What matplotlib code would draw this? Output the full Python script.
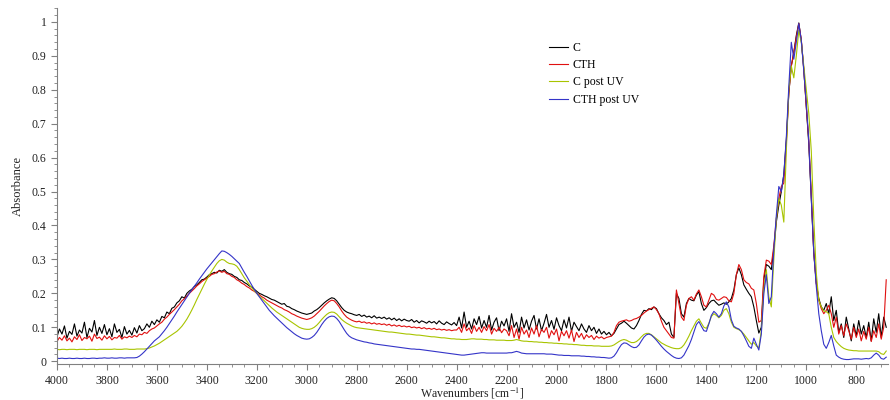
"""
Espectros FTIR - C, CTH, antes e depois do UV
"""

import numpy as np
import matplotlib
matplotlib.use('Agg')
import matplotlib.pyplot as plt
from matplotlib.ticker import MultipleLocator, FuncFormatter

plt.rcParams['font.family'] = ['Liberation Serif', 'DejaVu Serif']
plt.rcParams['mathtext.fontset'] = 'stix'

# ========================================
# DADOS (passo de 10 cm-1)
# ========================================

numero_onda = np.arange(4000, 679, -10)

absorb_c = [
    0.072, 0.095, 0.080, 0.104, 0.068, 0.088, 0.079, 0.110, 0.074, 0.092,
    0.083, 0.115, 0.070, 0.097, 0.086, 0.120, 0.076, 0.100, 0.082, 0.108,
    0.078, 0.096, 0.072, 0.110, 0.085, 0.094, 0.070, 0.102, 0.080, 0.091,
    0.077, 0.099, 0.083, 0.105, 0.090, 0.096, 0.110, 0.100, 0.118, 0.108,
    0.122, 0.115, 0.132, 0.128, 0.145, 0.140, 0.156, 0.160, 0.172, 0.178,
    0.190, 0.186, 0.200, 0.207, 0.212, 0.220, 0.225, 0.232, 0.240, 0.242,
    0.248, 0.255, 0.258, 0.262, 0.260, 0.268, 0.265, 0.270, 0.262, 0.258,
    0.256, 0.250, 0.247, 0.240, 0.238, 0.232, 0.228, 0.222, 0.218, 0.212,
    0.206, 0.200, 0.197, 0.193, 0.190, 0.186, 0.182, 0.180, 0.176, 0.172,
    0.168, 0.170, 0.162, 0.160, 0.155, 0.152, 0.148, 0.145, 0.142, 0.140,
    0.138, 0.140, 0.142, 0.148, 0.152, 0.158, 0.165, 0.172, 0.178, 0.183,
    0.187, 0.185, 0.178, 0.168, 0.158, 0.150, 0.145, 0.142, 0.140, 0.137,
    0.135, 0.138, 0.132, 0.136, 0.130, 0.133, 0.128, 0.134, 0.127, 0.130,
    0.126, 0.130, 0.124, 0.128, 0.122, 0.127, 0.120, 0.125, 0.119, 0.124,
    0.120, 0.118, 0.123, 0.115, 0.120, 0.113, 0.119, 0.116, 0.112, 0.118,
    0.113, 0.117, 0.110, 0.119, 0.112, 0.108, 0.116, 0.111, 0.107, 0.114,
    0.105, 0.130, 0.098, 0.145, 0.100, 0.118, 0.095, 0.125, 0.108, 0.132,
    0.098, 0.120, 0.100, 0.135, 0.092, 0.115, 0.128, 0.090, 0.118, 0.104,
    0.125, 0.088, 0.140, 0.100, 0.115, 0.085, 0.130, 0.098, 0.122, 0.092,
    0.118, 0.135, 0.095, 0.125, 0.090, 0.112, 0.138, 0.100, 0.120, 0.094,
    0.128, 0.105, 0.090, 0.122, 0.098, 0.130, 0.088, 0.115, 0.102, 0.090,
    0.110, 0.095, 0.085, 0.105, 0.090, 0.100, 0.082, 0.095, 0.080, 0.088,
    0.078, 0.085, 0.075, 0.082, 0.095, 0.108, 0.112, 0.118, 0.112, 0.105,
    0.098, 0.095, 0.105, 0.120, 0.138, 0.150, 0.148, 0.155, 0.152, 0.160,
    0.155, 0.140, 0.128, 0.120, 0.108, 0.115, 0.080, 0.070, 0.200, 0.185,
    0.140, 0.130, 0.170, 0.185, 0.180, 0.178, 0.195, 0.205, 0.170, 0.150,
    0.158, 0.170, 0.178, 0.180, 0.172, 0.165, 0.168, 0.172, 0.168, 0.175,
    0.185, 0.210, 0.255, 0.275, 0.255, 0.225, 0.212, 0.200, 0.190, 0.160,
    0.120, 0.083, 0.100, 0.240, 0.285, 0.280, 0.270, 0.330, 0.410, 0.460,
    0.500, 0.550, 0.650, 0.790, 0.870, 0.910, 0.960, 0.997, 0.945, 0.860,
    0.750, 0.640, 0.480, 0.320, 0.230, 0.185, 0.160, 0.150, 0.170, 0.140,
    0.190, 0.120, 0.150, 0.085, 0.110, 0.070, 0.130, 0.095, 0.060, 0.110,
    0.075, 0.120, 0.080, 0.105, 0.070, 0.115, 0.060, 0.125, 0.085, 0.140,
    0.070, 0.130, 0.100,
]

absorb_cth = [
    0.058, 0.070, 0.062, 0.075, 0.060, 0.068, 0.057, 0.072, 0.064, 0.078,
    0.061, 0.070, 0.066, 0.074, 0.059, 0.080, 0.067, 0.071, 0.062, 0.075,
    0.066, 0.073, 0.063, 0.070, 0.068, 0.076, 0.065, 0.072, 0.069, 0.074,
    0.070, 0.076, 0.072, 0.080, 0.078, 0.085, 0.082, 0.090, 0.095, 0.098,
    0.104, 0.110, 0.115, 0.124, 0.130, 0.138, 0.145, 0.152, 0.160, 0.168,
    0.178, 0.184, 0.192, 0.200, 0.207, 0.214, 0.222, 0.228, 0.235, 0.240,
    0.245, 0.250, 0.256, 0.258, 0.263, 0.266, 0.262, 0.265, 0.258, 0.256,
    0.250, 0.247, 0.240, 0.236, 0.230, 0.226, 0.220, 0.216, 0.210, 0.206,
    0.200, 0.196, 0.190, 0.186, 0.180, 0.176, 0.172, 0.168, 0.164, 0.160,
    0.157, 0.152, 0.149, 0.145, 0.140, 0.137, 0.133, 0.130, 0.127, 0.125,
    0.123, 0.125, 0.128, 0.133, 0.140, 0.147, 0.155, 0.163, 0.170, 0.176,
    0.180, 0.178, 0.170, 0.160, 0.148, 0.138, 0.130, 0.125, 0.121, 0.118,
    0.116, 0.118, 0.114, 0.116, 0.112, 0.114, 0.110, 0.113, 0.109, 0.111,
    0.108, 0.110, 0.106, 0.109, 0.104, 0.107, 0.103, 0.106, 0.102, 0.104,
    0.101, 0.103, 0.099, 0.101, 0.098, 0.100, 0.096, 0.099, 0.095, 0.097,
    0.094, 0.097, 0.093, 0.095, 0.092, 0.094, 0.091, 0.093, 0.090, 0.092,
    0.092, 0.100, 0.085, 0.110, 0.090, 0.098, 0.082, 0.105, 0.088, 0.100,
    0.085, 0.102, 0.090, 0.108, 0.080, 0.097, 0.088, 0.100, 0.084, 0.095,
    0.090, 0.075, 0.105, 0.070, 0.095, 0.065, 0.100, 0.080, 0.092, 0.070,
    0.098, 0.080, 0.105, 0.072, 0.094, 0.085, 0.100, 0.068, 0.090, 0.078,
    0.095, 0.060, 0.088, 0.075, 0.090, 0.068, 0.092, 0.058, 0.085, 0.070,
    0.082, 0.065, 0.078, 0.070, 0.076, 0.064, 0.074, 0.068, 0.072, 0.066,
    0.070, 0.072, 0.074, 0.085, 0.105, 0.115, 0.118, 0.120, 0.122, 0.118,
    0.120, 0.124, 0.126, 0.130, 0.135, 0.142, 0.148, 0.152, 0.156, 0.160,
    0.152, 0.140, 0.118, 0.100, 0.090, 0.080, 0.070, 0.068, 0.210, 0.170,
    0.130, 0.120, 0.165, 0.185, 0.190, 0.180, 0.198, 0.210, 0.190, 0.165,
    0.160, 0.180, 0.200, 0.195, 0.182, 0.180, 0.185, 0.190, 0.188, 0.178,
    0.175, 0.200, 0.255, 0.285, 0.270, 0.240, 0.232, 0.228, 0.215, 0.210,
    0.170, 0.115, 0.120, 0.250, 0.298, 0.295, 0.285, 0.340, 0.420, 0.480,
    0.515, 0.525, 0.640, 0.790, 0.870, 0.910, 0.955, 0.995, 0.948, 0.860,
    0.750, 0.650, 0.490, 0.320, 0.230, 0.180, 0.155, 0.140, 0.150, 0.165,
    0.140, 0.100, 0.130, 0.080, 0.105, 0.075, 0.110, 0.090, 0.065, 0.100,
    0.070, 0.095, 0.060, 0.088, 0.065, 0.100, 0.058, 0.090, 0.070, 0.110,
    0.065, 0.100, 0.240,
]

absorb_c_uv = [
    0.035, 0.034, 0.035, 0.035, 0.034, 0.035, 0.035, 0.035, 0.034, 0.035,
    0.035, 0.035, 0.034, 0.035, 0.035, 0.035, 0.034, 0.035, 0.035, 0.035,
    0.035, 0.035, 0.035, 0.036, 0.035, 0.035, 0.035, 0.036, 0.036, 0.035,
    0.035, 0.035, 0.036, 0.036, 0.036, 0.036, 0.037, 0.039, 0.042, 0.045,
    0.049, 0.053, 0.058, 0.063, 0.068, 0.073, 0.078, 0.083, 0.088, 0.095,
    0.103, 0.113, 0.124, 0.137, 0.151, 0.166, 0.182, 0.197, 0.212, 0.227,
    0.241, 0.254, 0.266, 0.277, 0.288, 0.296, 0.300, 0.298, 0.292, 0.288,
    0.287, 0.285, 0.280, 0.270, 0.258, 0.246, 0.236, 0.226, 0.216, 0.208,
    0.200, 0.192, 0.185, 0.178, 0.171, 0.164, 0.157, 0.151, 0.145, 0.140,
    0.135, 0.130, 0.125, 0.120, 0.115, 0.110, 0.105, 0.100, 0.097, 0.095,
    0.094, 0.094, 0.096, 0.100, 0.106, 0.114, 0.123, 0.131, 0.138, 0.143,
    0.145, 0.144, 0.139, 0.131, 0.123, 0.117, 0.112, 0.108, 0.104, 0.101,
    0.099, 0.098, 0.097, 0.096, 0.095, 0.094, 0.093, 0.092, 0.091, 0.090,
    0.089, 0.088, 0.087, 0.086, 0.086, 0.085, 0.084, 0.083, 0.082, 0.081,
    0.080, 0.080, 0.079, 0.078, 0.077, 0.077, 0.076, 0.075, 0.074, 0.073,
    0.072, 0.072, 0.071, 0.070, 0.069, 0.069, 0.068, 0.067, 0.066, 0.066,
    0.065, 0.065, 0.064, 0.064, 0.064, 0.065, 0.066, 0.066, 0.065, 0.065,
    0.065, 0.064, 0.064, 0.063, 0.063, 0.063, 0.062, 0.062, 0.062, 0.062,
    0.061, 0.061, 0.061, 0.062, 0.064, 0.062, 0.060, 0.059, 0.059, 0.058,
    0.058, 0.057, 0.057, 0.056, 0.056, 0.055, 0.055, 0.054, 0.054, 0.053,
    0.053, 0.052, 0.052, 0.051, 0.051, 0.050, 0.050, 0.049, 0.049, 0.048,
    0.047, 0.047, 0.046, 0.046, 0.046, 0.045, 0.045, 0.045, 0.044, 0.044,
    0.044, 0.044, 0.045, 0.048, 0.053, 0.058, 0.062, 0.064, 0.062, 0.058,
    0.055, 0.055, 0.058, 0.064, 0.072, 0.079, 0.082, 0.082, 0.078, 0.072,
    0.066, 0.060, 0.054, 0.050, 0.046, 0.043, 0.040, 0.038, 0.037, 0.037,
    0.040, 0.048, 0.060, 0.074, 0.090, 0.104, 0.118, 0.125, 0.112, 0.100,
    0.097, 0.112, 0.132, 0.140, 0.135, 0.128, 0.135, 0.150, 0.155, 0.140,
    0.115, 0.100, 0.096, 0.093, 0.088, 0.080, 0.070, 0.060, 0.050, 0.055,
    0.045, 0.040, 0.090, 0.210, 0.270, 0.190, 0.160, 0.300, 0.420, 0.480,
    0.460, 0.410, 0.620, 0.800, 0.870, 0.835, 0.900, 0.975, 0.940, 0.870,
    0.800, 0.730, 0.620, 0.420, 0.260, 0.180, 0.160, 0.148, 0.146, 0.140,
    0.100, 0.070, 0.058, 0.050, 0.043, 0.038, 0.035, 0.033, 0.032, 0.031,
    0.031, 0.030, 0.030, 0.030, 0.030, 0.030, 0.030, 0.030, 0.030, 0.028,
    0.022, 0.020, 0.030,
]

absorb_cth_uv = [
    0.009, 0.008, 0.009, 0.008, 0.008, 0.009, 0.008, 0.008, 0.009, 0.008,
    0.008, 0.009, 0.008, 0.008, 0.009, 0.009, 0.008, 0.009, 0.009, 0.010,
    0.009, 0.009, 0.010, 0.009, 0.009, 0.010, 0.010, 0.009, 0.010, 0.010,
    0.010, 0.010, 0.011, 0.015, 0.021, 0.028, 0.036, 0.044, 0.052, 0.060,
    0.066, 0.072, 0.081, 0.090, 0.100, 0.111, 0.122, 0.133, 0.145, 0.156,
    0.167, 0.178, 0.189, 0.200, 0.211, 0.221, 0.231, 0.242, 0.252, 0.262,
    0.272, 0.281, 0.290, 0.299, 0.308, 0.317, 0.325, 0.324, 0.320, 0.315,
    0.309, 0.302, 0.295, 0.288, 0.275, 0.262, 0.250, 0.237, 0.224, 0.212,
    0.200, 0.190, 0.180, 0.170, 0.160, 0.150, 0.142, 0.134, 0.127, 0.120,
    0.113, 0.106, 0.099, 0.093, 0.087, 0.081, 0.076, 0.072, 0.068, 0.066,
    0.065, 0.066, 0.070, 0.076, 0.085, 0.096, 0.108, 0.118, 0.126, 0.131,
    0.133, 0.132, 0.126, 0.117, 0.105, 0.093, 0.082, 0.074, 0.069, 0.066,
    0.063, 0.061, 0.059, 0.057, 0.056, 0.054, 0.053, 0.051, 0.050, 0.049,
    0.048, 0.047, 0.046, 0.045, 0.044, 0.043, 0.042, 0.041, 0.040, 0.039,
    0.038, 0.037, 0.036, 0.036, 0.035, 0.035, 0.034, 0.033, 0.032, 0.031,
    0.030, 0.029, 0.028, 0.027, 0.026, 0.025, 0.024, 0.023, 0.022, 0.021,
    0.020, 0.019, 0.018, 0.018, 0.019, 0.020, 0.021, 0.022, 0.023, 0.024,
    0.025, 0.025, 0.024, 0.024, 0.024, 0.024, 0.024, 0.024, 0.024, 0.024,
    0.024, 0.025, 0.025, 0.027, 0.029, 0.027, 0.024, 0.023, 0.022, 0.022,
    0.022, 0.022, 0.022, 0.022, 0.022, 0.022, 0.021, 0.021, 0.021, 0.020,
    0.019, 0.018, 0.018, 0.017, 0.017, 0.017, 0.016, 0.016, 0.016, 0.016,
    0.015, 0.015, 0.014, 0.014, 0.013, 0.013, 0.012, 0.012, 0.011, 0.011,
    0.010, 0.009, 0.010, 0.015, 0.025, 0.038, 0.049, 0.054, 0.053, 0.048,
    0.043, 0.040, 0.041, 0.048, 0.060, 0.071, 0.078, 0.080, 0.077, 0.070,
    0.062, 0.053, 0.044, 0.036, 0.029, 0.023, 0.017, 0.012, 0.009, 0.008,
    0.010, 0.018, 0.032, 0.046, 0.064, 0.086, 0.108, 0.117, 0.103, 0.090,
    0.088, 0.110, 0.135, 0.147, 0.140, 0.130, 0.140, 0.163, 0.175, 0.160,
    0.122, 0.103, 0.098, 0.095, 0.088, 0.075, 0.060, 0.044, 0.038, 0.068,
    0.050, 0.033, 0.080, 0.200, 0.255, 0.170, 0.190, 0.330, 0.430, 0.515,
    0.500, 0.550, 0.660, 0.810, 0.940, 0.890, 0.940, 0.995, 0.945, 0.855,
    0.760, 0.650, 0.480, 0.320, 0.220, 0.140, 0.090, 0.050, 0.038, 0.055,
    0.076, 0.045, 0.018, 0.012, 0.008, 0.006, 0.005, 0.005, 0.006, 0.007,
    0.007, 0.007, 0.006, 0.007, 0.008, 0.007, 0.010, 0.018, 0.024, 0.018,
    0.008, 0.006, 0.012,
]

series = [
    ('C', absorb_c, '#000000'),
    ('CTH', absorb_cth, '#e01010'),
    ('C post UV', absorb_c_uv, '#a8c400'),
    ('CTH post UV', absorb_cth_uv, '#3434c8'),
]

# ========================================
# FIGURA
# ========================================

fig = plt.figure(figsize=(8.9, 4.0), dpi=100)
ax = fig.add_axes([0.064, 0.091, 0.934, 0.889])

for nome, valores, cor in series:
    assert len(valores) == len(numero_onda), nome
    ax.plot(numero_onda, valores, color=cor, lw=0.8, label=nome)

ax.set_xlim(4000, 672)
ax.set_ylim(-0.007, 1.041)

cor_eixo = '#808080'
for lado in ['top', 'right']:
    ax.spines[lado].set_visible(False)
for lado in ['left', 'bottom']:
    ax.spines[lado].set_color(cor_eixo)
    ax.spines[lado].set_linewidth(0.8)

ax.xaxis.set_major_locator(MultipleLocator(200))
ax.xaxis.set_minor_locator(MultipleLocator(50))
ax.yaxis.set_major_locator(MultipleLocator(0.1))
ax.yaxis.set_minor_locator(MultipleLocator(0.02))
ax.yaxis.set_major_formatter(FuncFormatter(lambda v, p: f'{v:g}' if abs(v) > 1e-9 else '0'))
ax.tick_params(which='both', direction='out', colors=cor_eixo, labelcolor='#222222',
               labelsize=8.5)
ax.tick_params(which='major', length=4, width=0.8)
ax.tick_params(which='minor', length=2, width=0.6)
ax.tick_params(axis='x', which='major', pad=4)

ax.set_xlabel('Wavenumbers [cm$^{-1}$]', fontsize=8.5, color='#222222', va='center')
ax.xaxis.set_label_coords(0.5, -0.084)
ax.set_ylabel('Absorbance', fontsize=9, color='#222222', va='center')
ax.yaxis.set_label_coords(-0.047, 0.5)

ax.legend(loc='upper left', bbox_to_anchor=(0.592, 0.905), frameon=False,
          fontsize=8.5, handlelength=1.6, handletextpad=0.4, labelspacing=0.45,
          borderpad=0, borderaxespad=0)

fig.savefig('out.png', dpi=100, facecolor='white')
plt.close(fig)
